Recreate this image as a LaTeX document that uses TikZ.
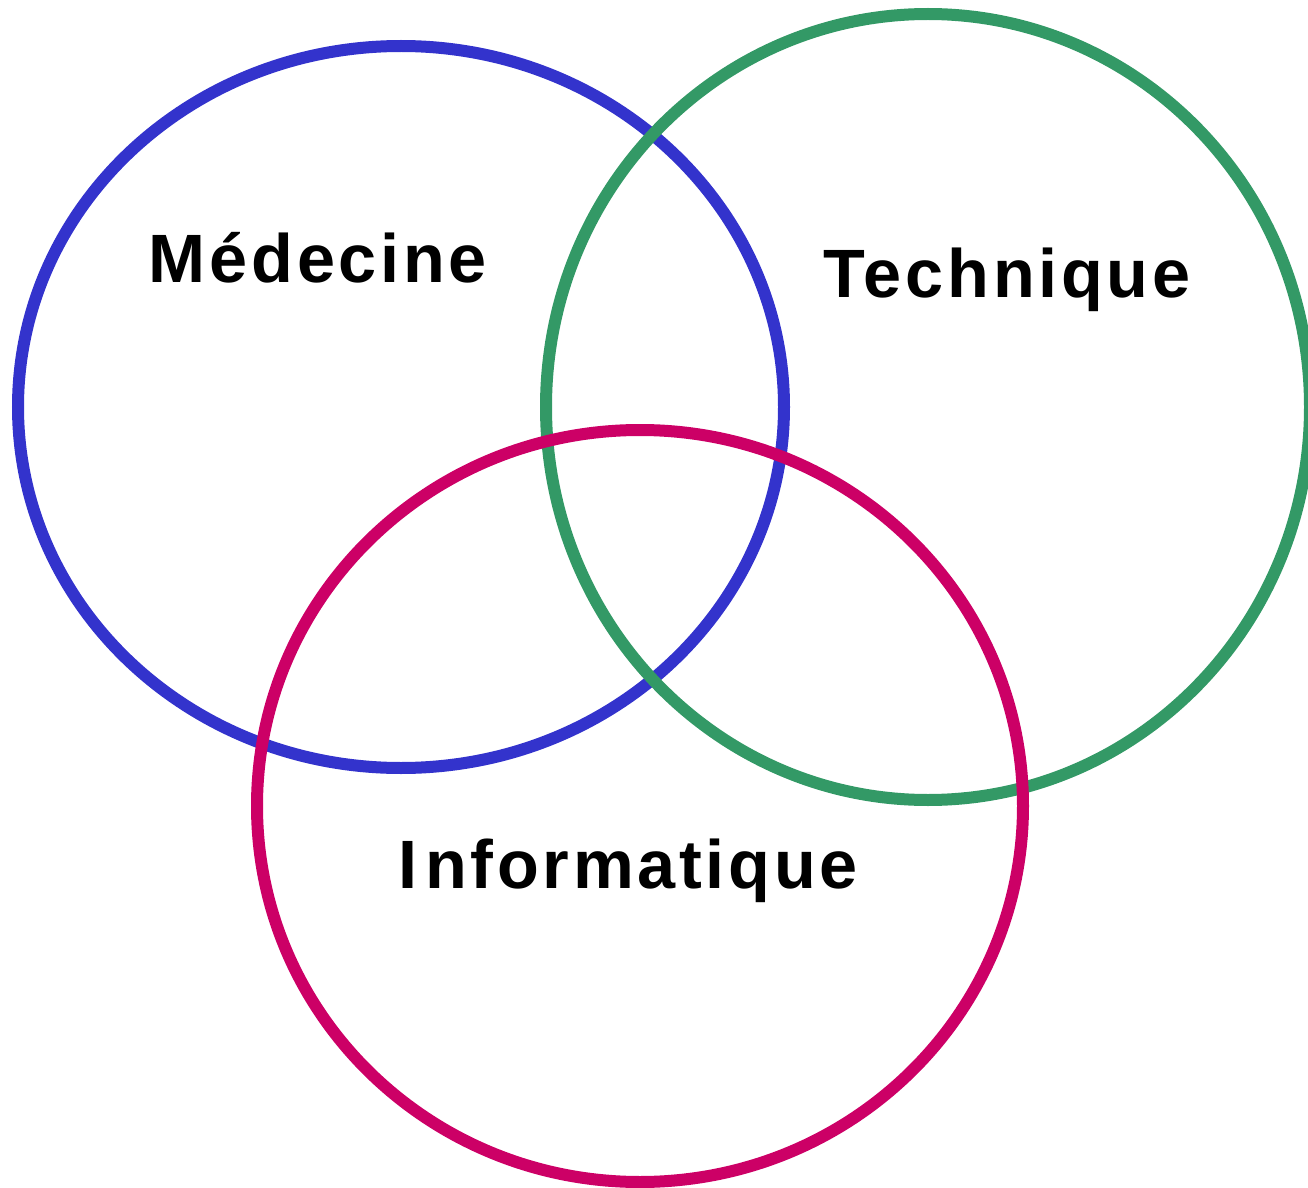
\documentclass[tikz,border=0pt]{standalone}
\usepackage{fontspec}
\newfontfamily\setfont[LetterSpace=5.5]{Liberation Sans}
\definecolor{medblue}{HTML}{3333CC}
\definecolor{techgreen}{HTML}{339966}
\definecolor{infopink}{HTML}{CC0066}

\begin{document}
\begin{tikzpicture}[x=0.5pt, y=-0.5pt,
        set/.style={line width=6pt},
        every node/.style={anchor=base, inner sep=0pt, font=\setfont\bfseries\fontsize{34.2}{40}\selectfont}]
        \useasboundingbox (0,0) rectangle (1308,1188);
        \coordinate (med) at (401,407);
        \coordinate (tech) at (928,407);
        \coordinate (info) at (640,806);
        \draw[set, medblue] (med) ellipse [x radius=383, y radius=361];
        \draw[set, techgreen] (tech) ellipse [x radius=382, y radius=393];
        \draw[set, infopink] (info) ellipse [x radius=383, y radius=376];
        \node (medlabel) at (318,282) {Médecine};
        \node (techlabel) at (1007,298) {Technique};
        \node (infolabel) at (628,888) {I\kern4pt nformatique};
      \end{tikzpicture}
\end{document}
